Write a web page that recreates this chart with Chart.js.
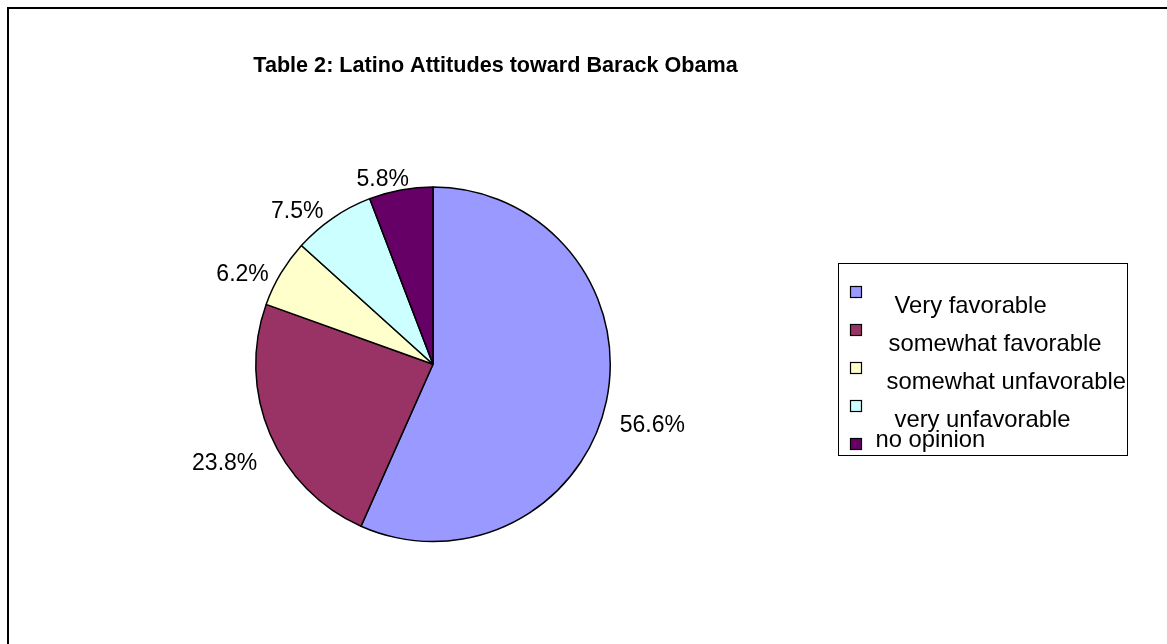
<!DOCTYPE html>
<html>
<head>
<meta charset="utf-8">
<script src="https://cdn.jsdelivr.net/npm/chart.js@4"></script>
<style>
  html, body { margin: 0; padding: 0; background: #fff; }
  #wrap { position: relative; width: 1167px; height: 644px; }
</style>
</head>
<body>
<div id="wrap"><canvas id="obamaChart"></canvas></div>
<script>
const chartTitle = 'Table 2: Latino Attitudes toward Barack Obama';
const categories = ['Very favorable', 'somewhat favorable', 'somewhat unfavorable', 'very unfavorable', 'no opinion'];
const shares = [56.6, 23.8, 6.2, 7.5, 5.8];
const sliceColors = ['#9999FF', '#993366', '#FFFFCC', '#CCFFFF', '#660066'];

// legend layout: text indent from box edge, baseline drop below the swatch
const legendIndent = [56, 50, 48, 56, 37];
const legendDrop = [27, 27, 27, 27, 9];

const FONT = '"Liberation Sans", Arial, sans-serif';

const framePlugin = {
  id: 'frame',
  beforeDraw(chart) {
    const c = chart.ctx;
    c.save();
    c.fillStyle = '#fff';
    c.fillRect(0, 0, chart.width, chart.height);
    c.strokeStyle = '#000';
    c.lineWidth = 2;
    c.strokeRect(8, 8, chart.width + 20, chart.height + 20);
    c.fillStyle = '#000';
    c.font = 'bold 21.6px ' + FONT;
    c.textAlign = 'center';
    c.textBaseline = 'alphabetic';
    c.fillText(chartTitle, 495.5, 72);
    c.restore();
  }
};

// percentage labels just outside each slice
const pctLabels = {
  id: 'pctLabels',
  afterDatasetsDraw(chart) {
    const c = chart.ctx;
    const meta = chart.getDatasetMeta(0);
    c.save();
    c.font = '23px ' + FONT;
    c.fillStyle = '#000';
    c.textAlign = 'center';
    c.textBaseline = 'middle';
    meta.data.forEach((arc, i) => {
      const p = arc.getProps(['x', 'y', 'startAngle', 'endAngle', 'outerRadius'], true);
      const mid = (p.startAngle + p.endAngle) / 2;
      const dx = Math.cos(mid), dy = Math.sin(mid);
      const txt = shares[i].toFixed(1) + '%';
      const w = c.measureText(txt).width + 8, h = 30;
      const R = p.outerRadius + 9.5;
      const sx = Math.sign(dx) * Math.min(1, Math.abs(dx) * 3);
      const tx = p.x + dx * R + sx * w / 2;
      // labels on the lower half hang a little lower
      const ty = p.y + dy * R + dy * h / 2 + 14 + (dy > 0 ? 6 : 0);
      c.fillText(txt, tx, ty);
    });
    c.restore();
  }
};

const boxLegend = {
  id: 'boxLegend',
  afterDraw(chart) {
    const c = chart.ctx;
    const left = 838.5, top = 263.5, w = 289, h = 192;
    c.save();
    c.strokeStyle = '#000';
    c.lineWidth = 1;
    c.strokeRect(left, top, w, h);
    c.font = '23.8px ' + FONT;
    c.textAlign = 'left';
    c.textBaseline = 'alphabetic';
    categories.forEach((name, i) => {
      const sy = 286 + i * 38;
      c.fillStyle = sliceColors[i];
      c.fillRect(850.5, sy + 0.5, 11, 11);
      c.strokeStyle = '#000';
      c.lineWidth = 1.2;
      c.strokeRect(850.5, sy + 0.5, 11, 11);
      c.fillStyle = '#000';
      c.fillText(name, left + legendIndent[i], sy + legendDrop[i]);
    });
    c.restore();
  }
};

new Chart(document.getElementById('obamaChart'), {
  type: 'pie',
  data: {
    labels: categories,
    datasets: [{
      data: shares,
      backgroundColor: sliceColors,
      borderColor: '#000',
      borderWidth: 1.5
    }]
  },
  options: {
    responsive: true,
    maintainAspectRatio: false,
    animation: false,
    layout: { padding: { left: 255, top: 186, right: 556, bottom: 101.5 } },
    plugins: {
      legend: { display: false },
      tooltip: { enabled: false },
      title: { display: false }
    }
  },
  plugins: [framePlugin, pctLabels, boxLegend]
});
</script>
</body>
</html>
